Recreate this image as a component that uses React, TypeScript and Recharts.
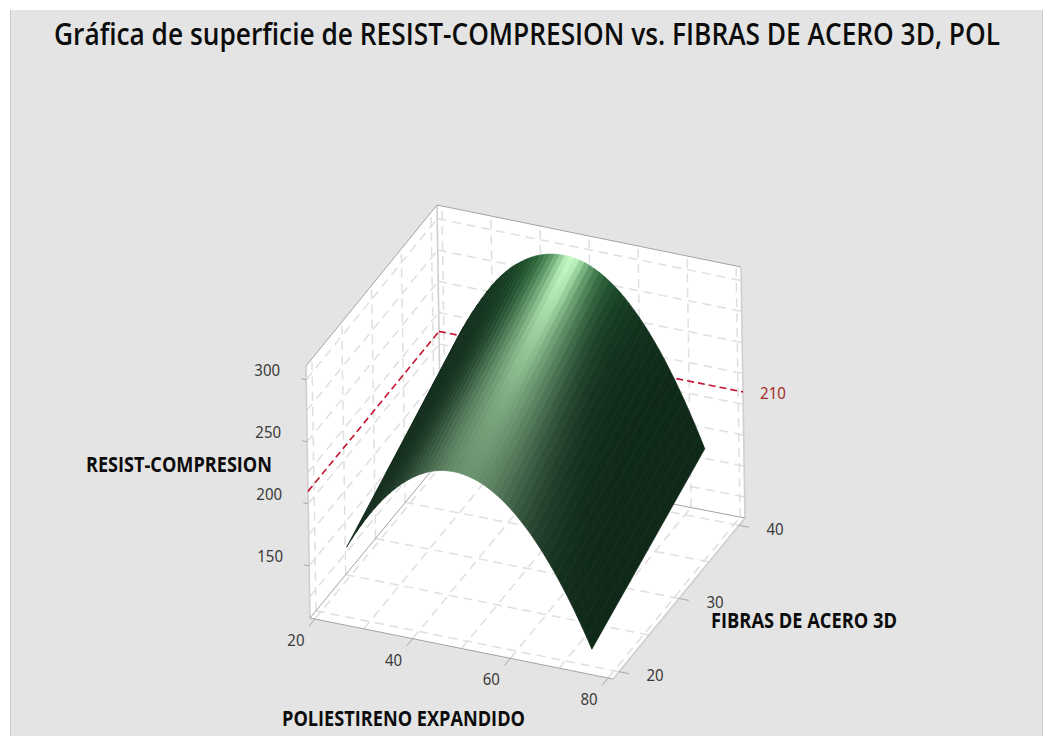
import { ScatterChart, Scatter, XAxis, YAxis } from 'recharts';

const W = 1047;
const H = 736;

// ── Data ──────────────────────────────────────────────────────────────────────

const POLIESTIRENO = [
  25.5, 26.5, 27.5, 28.5, 29.5, 30.5, 31.5, 32.5, 33.5, 34.5, 35.5, 36.5, 37.5, 38.5, 39.5, 40.5, 41.5,
  42.5, 43.5, 44.5, 45.5, 46.5, 47.5, 48.5, 49.5, 50.5, 51.5, 52.5, 53.5, 54.5, 55.5, 56.5, 57.5, 58.5,
  59.5, 60.5, 61.5, 62.5, 63.5, 64.5, 65.5, 66.5, 67.5, 68.5, 69.5, 70.5, 71.5, 72.5, 73.5, 74.5, 75.5,
];
const FIBRAS_FRONT = 20;
const FIBRAS_BACK = 39;
const RESIST_FRONT = [
  164.4, 171.3, 177.9, 184.1, 190.1, 195.7, 201, 206, 210.7, 215, 219.1, 222.8, 226.2, 229.3, 232.1, 234.6, 236.7,
  238.6, 240.1, 241.3, 242.2, 242.7, 243, 242.9, 242.5, 241.8, 240.8, 239.5, 237.9, 235.9, 233.6, 231, 228.1, 224.9,
  221.4, 217.5, 213.3, 208.9, 204.1, 198.9, 193.5, 187.7, 181.7, 175.3, 168.6, 161.6, 154.3, 146.6, 138.6, 130.4, 121.8,
];
const RESIST_BACK = [
  223.5, 231.1, 238.3, 245.2, 251.7, 257.9, 263.8, 269.3, 274.4, 278.9, 283, 286.8, 290, 292.9, 295.6, 297.9, 299.9,
  301.5, 302.8, 303.8, 304.5, 304.9, 305, 304.9, 304.5, 303.7, 302.6, 301.2, 299.3, 297.2, 294.7, 291.8, 288.6, 285.1,
  281.2, 276.9, 272.3, 267.4, 262.1, 256.5, 250.5, 244.2, 237.5, 230.4, 223.1, 215.3, 207.3, 198.8, 190.1, 181, 171.5,
];

const X_TICKS = [20, 40, 60, 80];
const Y_TICKS = [20, 30, 40];
const Z_TICKS = [150, 200, 250, 300];
const X_GRID = [20, 30, 40, 50, 60, 70, 80];
const Y_GRID = [20, 25, 30, 35, 40];
const Z_GRID = [125, 150, 175, 200, 225, 250, 275, 300];
const REF_Z = 210;

const X_BOX = [19, 81];
const Y_BOX = [19, 41];
const Z_BOX = [108, 311];

// ── Projection of the 3D box onto the page ────────────────────────────────────

// page position of the box corners, indexed [x][y][z]
const CORNERS = [
  [[[310, 618], [306, 366]], [[441, 459], [437, 205]]],
  [[[613, 679], [609, 428]], [[745, 518], [741, 267]]],
];

function project(x: number, y: number, z: number) {
  const a = (x - X_BOX[0]) / (X_BOX[1] - X_BOX[0]);
  const b = (y - Y_BOX[0]) / (Y_BOX[1] - Y_BOX[0]);
  const c = (z - Z_BOX[0]) / (Z_BOX[1] - Z_BOX[0]);
  const at = (k: number) => {
    const low = (1 - b) * ((1 - a) * CORNERS[0][0][0][k] + a * CORNERS[1][0][0][k])
      + b * ((1 - a) * CORNERS[0][1][0][k] + a * CORNERS[1][1][0][k]);
    const high = (1 - b) * ((1 - a) * CORNERS[0][0][1][k] + a * CORNERS[1][0][1][k])
      + b * ((1 - a) * CORNERS[0][1][1][k] + a * CORNERS[1][1][1][k]);
    return (1 - c) * low + c * high;
  };
  return { sx: at(0), sy: at(1) };
}

const seg = (a: number[], b: number[]) => [project(a[0], a[1], a[2]), project(b[0], b[1], b[2])];

const [X0, X1] = X_BOX;
const [Y0, Y1] = Y_BOX;
const [Z0, Z1] = Z_BOX;

const GRID_LINES = [
  ...X_GRID.map(x => seg([x, Y1, Z0], [x, Y1, Z1])),
  ...X_GRID.map(x => seg([x, Y0, Z0], [x, Y1, Z0])),
  ...Y_GRID.map(y => seg([X0, y, Z0], [X0, y, Z1])),
  ...Y_GRID.map(y => seg([X0, y, Z0], [X1, y, Z0])),
  ...Z_GRID.map(z => seg([X0, Y1, z], [X1, Y1, z])),
  ...Z_GRID.map(z => seg([X0, Y0, z], [X0, Y1, z])),
];

const WALLS = [
  [[X0, Y0, Z0], [X0, Y1, Z0], [X0, Y1, Z1], [X0, Y0, Z1]],
  [[X0, Y1, Z0], [X1, Y1, Z0], [X1, Y1, Z1], [X0, Y1, Z1]],
  [[X0, Y0, Z0], [X1, Y0, Z0], [X1, Y1, Z0], [X0, Y1, Z0]],
].map(w => w.map(p => project(p[0], p[1], p[2])));

const EDGES_LIGHT = [
  seg([X0, Y1, Z0], [X0, Y1, Z1]),
  seg([X0, Y0, Z0], [X0, Y0, Z1]),
  seg([X1, Y1, Z0], [X1, Y1, Z1]),
  seg([X1, Y0, Z0], [X1, Y1, Z0]),
];
const EDGES_DARK = [
  seg([X0, Y0, Z1], [X0, Y1, Z1]),
  seg([X0, Y1, Z1], [X1, Y1, Z1]),
  seg([X0, Y0, Z0], [X1, Y0, Z0]),
  seg([X0, Y0, Z0], [X0, Y1, Z0]),
  seg([X0, Y1, Z0], [X1, Y1, Z0]),
];

const TICK_LINES = [
  ...X_TICKS.map(x => seg([x, Y0, Z0], [x, Y0 - 1, Z0])),
  ...Y_TICKS.map(y => seg([X1, y, Z0], [X1 + 2, y, Z0])),
  ...Z_TICKS.map(z => seg([X0, Y0, z], [X0 - 1, Y0, z])),
];

const shift = (p: { sx: number; sy: number }, dx: number, dy: number, label: string) =>
  ({ sx: p.sx + dx, sy: p.sy + dy, label });

const TICK_LABELS = [
  ...X_TICKS.map(x => shift(project(x, Y0, Z0), -19, 27, String(x))),
  ...Y_TICKS.map(y => shift(project(X1, y, Z0), 36, 9.5, String(y))),
  ...Z_TICKS.map(z => shift(project(X0, Y0, z), -39, -4, String(z))),
];
const REF_LABEL = [shift(project(X1, Y1, REF_Z), 30, 7.5, String(REF_Z))];

const STRIPS = POLIESTIRENO.slice(0, -1).map((x, i) => {
  const next = POLIESTIRENO[i + 1];
  return {
    id: i,
    xMid: (x + next) / 2,
    pts: [
      project(x, FIBRAS_FRONT, RESIST_FRONT[i]),
      project(next, FIBRAS_FRONT, RESIST_FRONT[i + 1]),
      project(next, FIBRAS_BACK, RESIST_BACK[i + 1]),
      project(x, FIBRAS_BACK, RESIST_BACK[i]),
    ],
  };
});

// ── Surface lighting ──────────────────────────────────────────────────────────

function shade(x: number, t: number) {
  const u = x - (50.5 - 1.5 * t);
  const width = 11.5 - 7 * t;
  const glow = (0.5 + 0.22 * t) * Math.exp(-((u / width) ** 2));
  const core = 0.3 * t * t * Math.exp(-((u / 2.2) ** 2));
  const I = Math.min(glow + core, 1);
  const g = t * t * Math.exp(-(((x - 48) / 11) ** 2));
  const base = [15 + 24 * g, 40 + 70 * g, 24 + 34 * g];
  const light = [195, 250, 195];
  const c = base.map((b, k) => Math.round(b + I * (light[k] - b)));
  return `rgb(${c[0]},${c[1]},${c[2]})`;
}

const STOPS = [0, 0.2, 0.4, 0.6, 0.8, 0.9, 1];

function stripShape(xMid: number, id: number) {
  return ({ points }: any) => {
    const [a, b, c, d] = points;
    const gid = `strip${id}`;
    return (
      <g>
        <defs>
          <linearGradient id={gid} gradientUnits="userSpaceOnUse"
            x1={(a.x + b.x) / 2} y1={(a.y + b.y) / 2} x2={(c.x + d.x) / 2} y2={(c.y + d.y) / 2}>
            {STOPS.map(t => <stop key={t} offset={t} stopColor={shade(xMid, t)} />)}
          </linearGradient>
        </defs>
        <polygon points={points.map((p: any) => `${p.x},${p.y}`).join(' ')}
          fill={`url(#${gid})`} stroke={`url(#${gid})`} strokeWidth={0.7} />
      </g>
    );
  };
}

const wallShape = ({ points }: any) => (
  <polygon points={points.map((p: any) => `${p.x},${p.y}`).join(' ')} fill="#ffffff" />
);

const NoDot = () => <g />;

function tickText(color: string) {
  return ({ cx, cy, payload }: any) => (
    <text x={cx} y={cy} textAnchor="middle" fontFamily="'Noto Sans', sans-serif" fontSize={17}
      fill={color} textLength={payload.label.length * 8.6} lengthAdjust="spacingAndGlyphs">
      {payload.label}
    </text>
  );
}

const FONT = "'Open Sans', 'Noto Sans', sans-serif";

function Squeezed({ x, y, width, size, weight, ratio, children }: any) {
  return (
    <text transform={`translate(${x},${y}) scale(${ratio},1)`} fontFamily={FONT} fontWeight={weight}
      fontSize={size} fill="#0c0c0c" textLength={width / ratio} lengthAdjust="spacingAndGlyphs">
      {children}
    </text>
  );
}

export default function App() {
  return (
    <div style={{ position: 'absolute', left: 0, top: 0, width: W, height: H, background: '#ffffff', overflow: 'hidden' }}>
      <div style={{
        position: 'absolute', left: 10, top: 10, width: 1031, height: H - 10, background: '#e4e4e4',
        borderLeft: '1px solid #cccccc', borderRight: '1px solid #cccccc',
      }} />
      <div style={{ position: 'absolute', left: 0, top: 0 }}>
        <ScatterChart width={W} height={H} margin={{ top: 0, right: 0, bottom: 0, left: 0 }}>
          <XAxis type="number" dataKey="sx" domain={[0, W]} hide />
          <YAxis type="number" dataKey="sy" domain={[0, H]} reversed hide />

          {WALLS.map((w, i) => (
            <Scatter key={`wall${i}`} data={w} line={wallShape} shape={NoDot} isAnimationActive={false} />
          ))}
          {GRID_LINES.map((l, i) => (
            <Scatter key={`grid${i}`} data={l} shape={NoDot} isAnimationActive={false}
              line={{ stroke: '#dfdfdf', strokeWidth: 1.5, strokeDasharray: '9 6' }} />
          ))}
          {EDGES_LIGHT.map((l, i) => (
            <Scatter key={`el${i}`} data={l} shape={NoDot} isAnimationActive={false}
              line={{ stroke: '#cfcfcf', strokeWidth: 1.6 }} />
          ))}
          {EDGES_DARK.map((l, i) => (
            <Scatter key={`ed${i}`} data={l} shape={NoDot} isAnimationActive={false}
              line={{ stroke: '#a4a4a4', strokeWidth: 1 }} />
          ))}
          {TICK_LINES.map((l, i) => (
            <Scatter key={`tick${i}`} data={l} shape={NoDot} isAnimationActive={false}
              line={{ stroke: '#a8a8a8', strokeWidth: 1 }} />
          ))}

          <Scatter data={seg([X0, Y0, REF_Z], [X0, Y1, REF_Z])} shape={NoDot} isAnimationActive={false}
            line={{ stroke: '#c4122e', strokeWidth: 1.6, strokeDasharray: '7 4' }} />
          <Scatter data={seg([X0, Y1, REF_Z], [X1, Y1, REF_Z])} shape={NoDot} isAnimationActive={false}
            line={{ stroke: '#c4122e', strokeWidth: 1.6, strokeDasharray: '7 4' }} />

          {STRIPS.map(s => (
            <Scatter key={`strip${s.id}`} data={s.pts} shape={NoDot} isAnimationActive={false}
              line={stripShape(s.xMid, s.id)} />
          ))}

          <Scatter data={TICK_LABELS} shape={tickText('#3a3a3a')} isAnimationActive={false} />
          <Scatter data={REF_LABEL} shape={tickText('#a32a2a')} isAnimationActive={false} />

          <Squeezed x={54} y={45} width={946} size={31} weight={600} ratio={0.84}>
            Gráfica de superficie de RESIST-COMPRESION vs. FIBRAS DE ACERO 3D, POL
          </Squeezed>
          <Squeezed x={86} y={472} width={186} size={21} weight={700} ratio={0.88}>
            RESIST-COMPRESION
          </Squeezed>
          <Squeezed x={282} y={726} width={243} size={21} weight={700} ratio={0.88}>
            POLIESTIRENO EXPANDIDO
          </Squeezed>
          <Squeezed x={711} y={628} width={186} size={21} weight={700} ratio={0.88}>
            FIBRAS DE ACERO 3D
          </Squeezed>
        </ScatterChart>
      </div>
    </div>
  );
}
